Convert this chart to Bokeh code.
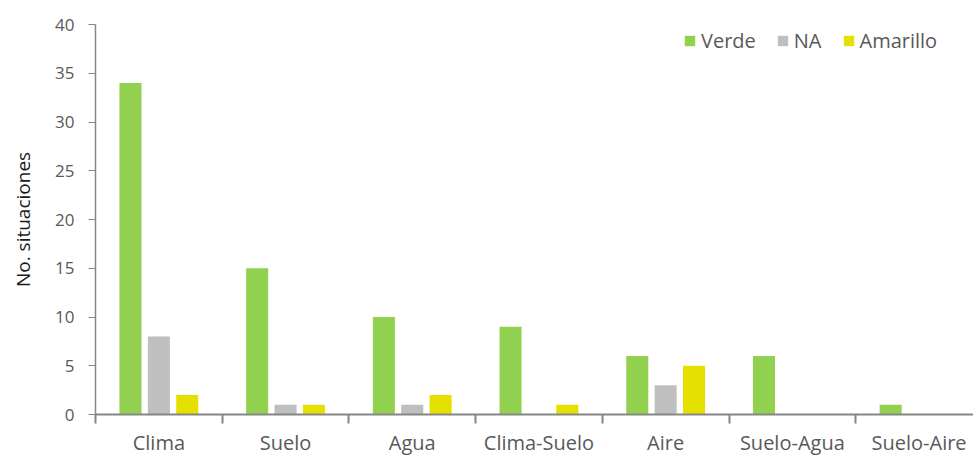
from bokeh.plotting import figure
from bokeh.models import Range1d, FixedTicker, Legend, LegendItem, ColumnDataSource
from bokeh.embed import file_html
from bokeh.resources import INLINE

categories = ["Clima", "Suelo", "Agua", "Clima-Suelo", "Aire", "Suelo-Agua", "Suelo-Aire"]
verde = [34, 15, 10, 9, 6, 6, 1]
na = [8, 1, 1, 0, 3, 0, 0]
amarillo = [2, 1, 2, 1, 5, 0, 0]
series_names = ["Verde", "NA", "Amarillo"]
series_colors = ["#92D050", "#BFBFBF", "#E6E000"]
y_ticks = [0, 5, 10, 15, 20, 25, 30, 35, 40]

FONT = "Open Sans"
TXT = "#595959"

n = len(categories)
centers = [i + 0.5 for i in range(n)]
boundaries = list(range(n + 1))

FW, FH = 878, 390
p = figure(frame_width=FW, frame_height=FH, output_backend="svg", toolbar_location=None,
           x_range=Range1d(0, FW / 126.7), y_range=Range1d(0, 40),
           min_border_left=95, min_border_right=0, min_border_top=24, min_border_bottom=43)
p.outline_line_color = None
p.grid.grid_line_color = None
p.background_fill_color = "white"

offsets = [-0.224, 0.0, 0.224]
renderers = []
for vals, off, col in zip([verde, na, amarillo], offsets, series_colors):
    src = ColumnDataSource(dict(x=[c + off for c in centers], top=vals))
    r = p.vbar(x="x", top="top", width=0.174, source=src, fill_color=col, line_color=None)
    renderers.append(r)

# x axis
xa = p.xaxis[0]
xa.ticker = FixedTicker(ticks=centers, minor_ticks=boundaries)
xa.major_label_overrides = {c: name for c, name in zip(centers, categories)}
xa.major_tick_out = 0
xa.major_tick_in = 0
xa.minor_tick_out = 9
xa.minor_tick_in = 0
xa.minor_tick_line_color = "#868686"
xa.minor_tick_line_width = 2
xa.axis_line_color = "#868686"
xa.axis_line_width = 2
xa.major_label_text_font = FONT
xa.major_label_text_font_size = "20px"
xa.major_label_text_color = TXT
xa.major_label_standoff = 5

# y axis
ya = p.yaxis[0]
ya.ticker = FixedTicker(ticks=y_ticks)
ya.major_tick_out = 7
ya.major_tick_in = 0
ya.minor_tick_line_color = None
ya.major_tick_line_color = "#868686"
ya.axis_line_color = "#868686"
ya.axis_line_width = 1.5
ya.major_label_text_font = FONT
ya.major_label_text_font_size = "17px"
ya.major_label_text_color = TXT
ya.major_label_standoff = 14
ya.axis_label = "No. situaciones"
ya.axis_label_text_font = FONT
ya.axis_label_text_font_size = "19px"
ya.axis_label_text_font_style = "normal"
ya.axis_label_text_color = "#1a1a1a"
ya.axis_label_standoff = 16

legend = Legend(items=[LegendItem(label=nm, renderers=[r]) for nm, r in zip(series_names, renderers)],
                orientation="horizontal", location=(588, FH - 8 - 22))
legend.border_line_color = None
legend.background_fill_alpha = 0
legend.padding = 0
legend.margin = 0
legend.spacing = 20
legend.glyph_width = 13
legend.glyph_height = 13
legend.label_height = 22
legend.label_standoff = 5
legend.label_text_font = FONT
legend.label_text_font_size = "20px"
legend.label_text_color = TXT
p.add_layout(legend, "center")

open("out.html", "w").write(file_html(p, INLINE))
